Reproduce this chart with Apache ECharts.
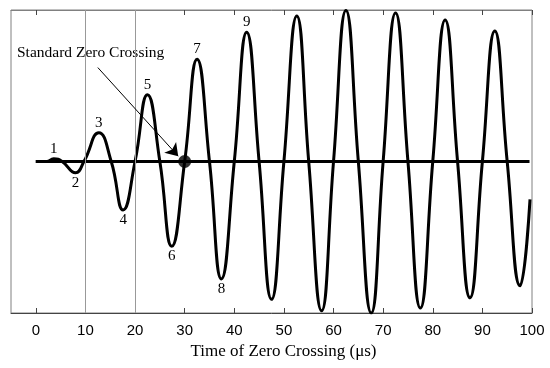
<!DOCTYPE html>
<html>
<head>
<meta charset="utf-8">
<script src="https://cdn.jsdelivr.net/npm/echarts@6/dist/echarts.min.js"></script>
<style>
html,body{margin:0;padding:0;background:#fff;}
#chart{width:550px;height:368px;}
</style>
</head>
<body>
<div id="chart"></div>
<script>
// ---- data ----
const tickValues = [0, 10, 20, 30, 40, 50, 60, 70, 80, 90, 100];
const waveX = [0, 2.2, 3.6, 5.3, 8.0, 9.7, 12.7, 15.2, 17.6, 20.0, 22.5, 25.0, 27.4, 30.0, 32.5, 35.0, 37.4, 40.0, 42.5, 45.0, 47.5, 50.0, 52.6, 55.0, 57.6, 60.0, 62.5, 65.0, 67.6, 70.0, 72.5, 75.0, 77.5, 80.0, 82.5, 85.0, 87.5, 90.0, 92.5, 95.0, 97.6, 99.6];
const waveY = [0, 0, 0.018, 0, -0.075, 0, 0.19, 0, -0.32, 0, 0.44, 0, -0.56, 0, 0.675, 0, -0.775, 0, 0.853, 0, -0.91, 0, 0.96, 0, -0.985, 0, 0.997, 0, -1.0, 0, 0.98, 0, -0.967, 0, 0.934, 0, -0.90, 0, 0.862, 0, -0.82, -0.25];
const waveLabel = ['', '', '1', '', '2', '', '3', '', '4', '', '5', '', '6', '', '7', '', '8', '', '9', '', '', '', '', '', '', '', '', '', '', '', '', '', '', '', '', '', '', '', '', '', '', ''];
const baselineX = [0, 99.5];
const gridLineX = [10, 20];
const zeroCrossing = [30, 0];
const annotationText = 'Standard Zero Crossing';
const arrowFrom = [12.5, 0.62];
const arrowTo = [28.7, 0.035];
const xTitle = 'Time of Zero Crossing (\u03bcs)';

const serif = "'Liberation Serif','Times New Roman',serif";
const sans = "'Liberation Sans',Arial,sans-serif";

const waveData = waveX.map((x, i) => [x, waveY[i]]);
const labelData = [];
waveX.forEach((x, i) => {
  if (waveLabel[i]) {
    labelData.push({
      value: [x, waveY[i]],
      label: {show: true, formatter: waveLabel[i], position: waveY[i] >= 0 ? 'top' : 'bottom'}
    });
  }
});

const chart = echarts.init(document.getElementById('chart'));
chart.setOption({
  animation: false,
  grid: {left: 11, right: 18, top: 10, bottom: 55, show: true, borderColor: '#808080', borderWidth: 1},
  xAxis: [{
    type: 'value', min: -5, max: 100, position: 'bottom',
    name: xTitle, nameLocation: 'middle', nameGap: 30,
    nameTextStyle: {fontFamily: serif, fontSize: 17, color: '#000', padding: [0, 0, 0, 24]},
    axisLine: {show: true, onZero: false, lineStyle: {color: '#444', width: 1}},
    axisTick: {show: true, inside: true, length: 5, customValues: tickValues, lineStyle: {color: '#444'}},
    axisLabel: {show: true, customValues: tickValues, margin: 10, fontFamily: sans, fontSize: 15, color: '#000'},
    splitLine: {show: false}
  }, {
    type: 'value', min: -5, max: 100, position: 'top',
    axisLine: {show: true, onZero: false, lineStyle: {color: '#808080', width: 1}},
    axisTick: {show: true, inside: true, length: 5, customValues: tickValues, lineStyle: {color: '#444'}},
    axisLabel: {show: false},
    splitLine: {show: false}
  }],
  yAxis: {
    type: 'value', min: -1, max: 1,
    axisLine: {show: false}, axisTick: {show: false}, axisLabel: {show: false}, splitLine: {show: false}
  },
  graphic: [{
    type: 'text', left: 17, top: 45,
    style: {text: annotationText, font: '15.5px ' + serif, fill: '#000'}
  }],
  series: [{
    type: 'line', name: 'baseline', data: baselineX.map(x => [x, 0]),
    symbol: 'none', lineStyle: {color: '#000', width: 3}, z: 3,
    markLine: {
      silent: true, symbol: 'none', label: {show: false},
      lineStyle: {color: '#999', width: 1, type: 'solid'},
      data: gridLineX.map(x => ({xAxis: x}))
    }
  }, {
    type: 'line', name: 'wave', data: waveData, smooth: 0.5,
    symbol: 'none', lineStyle: {color: '#000', width: 3}, z: 4
  }, {
    type: 'scatter', name: 'labels', data: labelData, symbolSize: 1,
    itemStyle: {color: 'rgba(0,0,0,0)'},
    label: {distance: 2, fontFamily: serif, fontSize: 15, color: '#000', opacity: 1}, z: 5
  }, {
    type: 'scatter', name: 'dot', data: [zeroCrossing], symbolSize: 13,
    itemStyle: {color: '#000'}, z: 6,
    markLine: {
      silent: true, symbol: ['none', 'arrow'], symbolSize: 12, label: {show: false},
      lineStyle: {color: '#000', width: 1, type: 'solid'},
      data: [[{coord: arrowFrom}, {coord: arrowTo}]]
    }
  }]
});
</script>
</body>
</html>
